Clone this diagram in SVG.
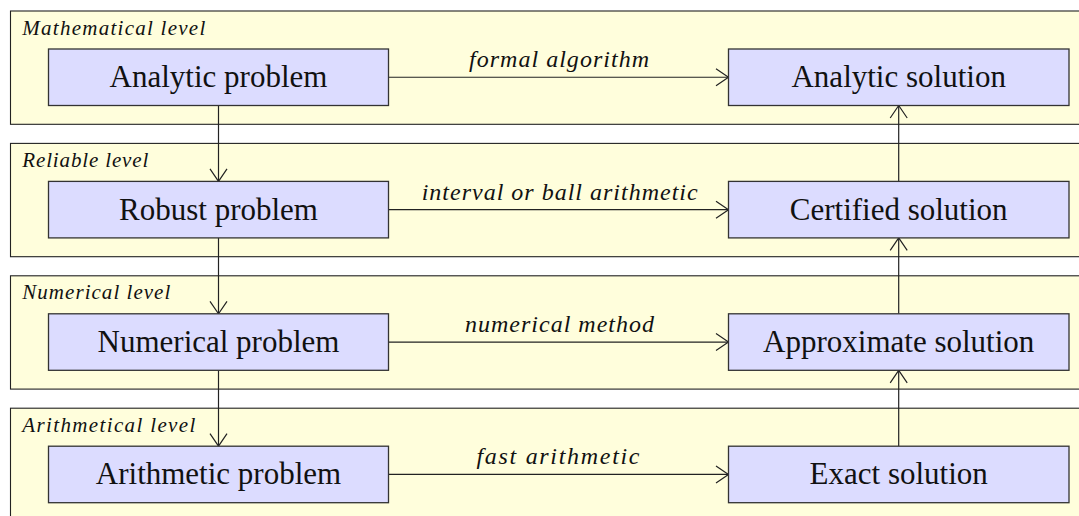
<svg xmlns="http://www.w3.org/2000/svg" width="1079" height="516" viewBox="0 0 1079 516">
<style>
.level{fill:#FFFEDC;stroke:#222;stroke-width:1.1}
.box{fill:#DCDCFF;stroke:#333;stroke-width:1.3}
.lvl{font-family:"Liberation Serif",serif;font-style:italic;font-size:21px;fill:#111}
.nt{font-family:"Liberation Serif",serif;font-size:31px;fill:#111;text-anchor:middle}
.el{font-family:"Liberation Serif",serif;font-style:italic;font-size:24px;fill:#111;text-anchor:middle}
.con{stroke:#222;stroke-width:1.2;fill:none;marker-end:url(#arr)}
</style>
<defs>
<marker id="arr" markerUnits="userSpaceOnUse" markerWidth="16" markerHeight="20" viewBox="0 0 16 20" refX="14" refY="10" orient="auto">
<path d="M1.5,1.5 L14,10 L1.5,18.5" fill="none" stroke="#222" stroke-width="1.2"/>
</marker>
</defs>
<rect width="1079" height="516" fill="#fff"/>
<g id="level-mathematical"><rect class="level" x="10.5" y="11" width="1100" height="113.3"/><text class="lvl" x="22.3" y="34.5" textLength="183" lengthAdjust="spacing">Mathematical level</text></g>
<g id="level-reliable"><rect class="level" x="10.5" y="143.4" width="1100" height="113.3"/><text class="lvl" x="22.3" y="166.9" textLength="126" lengthAdjust="spacing">Reliable level</text></g>
<g id="level-numerical"><rect class="level" x="10.5" y="275.8" width="1100" height="113.3"/><text class="lvl" x="22.3" y="299.3" textLength="148" lengthAdjust="spacing">Numerical level</text></g>
<g id="level-arithmetical"><rect class="level" x="10.5" y="408.2" width="1100" height="120"/><text class="lvl" x="22.3" y="431.7" textLength="173" lengthAdjust="spacing">Arithmetical level</text></g>
<g id="connectors">
<line class="con" x1="388.5" y1="77.25" x2="728.5" y2="77.25"/>
<line class="con" x1="388.5" y1="209.65" x2="728.5" y2="209.65"/>
<line class="con" x1="388.5" y1="342.05" x2="728.5" y2="342.05"/>
<line class="con" x1="388.5" y1="474.45" x2="728.5" y2="474.45"/>
<line class="con" x1="218.5" y1="105.5" x2="218.5" y2="181.4"/>
<line class="con" x1="218.5" y1="237.9" x2="218.5" y2="313.8"/>
<line class="con" x1="218.5" y1="370.3" x2="218.5" y2="446.2"/>
<line class="con" x1="898.7" y1="181.4" x2="898.7" y2="105.5"/>
<line class="con" x1="898.7" y1="313.8" x2="898.7" y2="237.9"/>
<line class="con" x1="898.7" y1="446.2" x2="898.7" y2="370.3"/>
<text class="el" x="559" y="67.25" textLength="180" lengthAdjust="spacing">formal algorithm</text>
<text class="el" x="559.7" y="199.65" textLength="276" lengthAdjust="spacing">interval or ball arithmetic</text>
<text class="el" x="559.5" y="332.05" textLength="189" lengthAdjust="spacing">numerical method</text>
<text class="el" x="558" y="464.45" textLength="163" lengthAdjust="spacing">fast arithmetic</text>
</g>
<g id="analytic-problem"><rect class="box" x="48.5" y="49" width="340" height="56.5"/><text class="nt" x="218.5" y="87.25">Analytic problem</text></g>
<g id="robust-problem"><rect class="box" x="48.5" y="181.4" width="340" height="56.5"/><text class="nt" x="218.5" y="219.65">Robust problem</text></g>
<g id="numerical-problem"><rect class="box" x="48.5" y="313.8" width="340" height="56.5"/><text class="nt" x="218.5" y="352.05">Numerical problem</text></g>
<g id="arithmetic-problem"><rect class="box" x="48.5" y="446.2" width="340" height="56.5"/><text class="nt" x="218.5" y="484.45">Arithmetic problem</text></g>
<g id="analytic-solution"><rect class="box" x="728.5" y="49" width="340.5" height="56.5"/><text class="nt" x="898.7" y="87.25">Analytic solution</text></g>
<g id="certified-solution"><rect class="box" x="728.5" y="181.4" width="340.5" height="56.5"/><text class="nt" x="898.7" y="219.65">Certified solution</text></g>
<g id="approximate-solution"><rect class="box" x="728.5" y="313.8" width="340.5" height="56.5"/><text class="nt" x="898.7" y="352.05">Approximate solution</text></g>
<g id="exact-solution"><rect class="box" x="728.5" y="446.2" width="340.5" height="56.5"/><text class="nt" x="898.7" y="484.45">Exact solution</text></g>
</svg>
